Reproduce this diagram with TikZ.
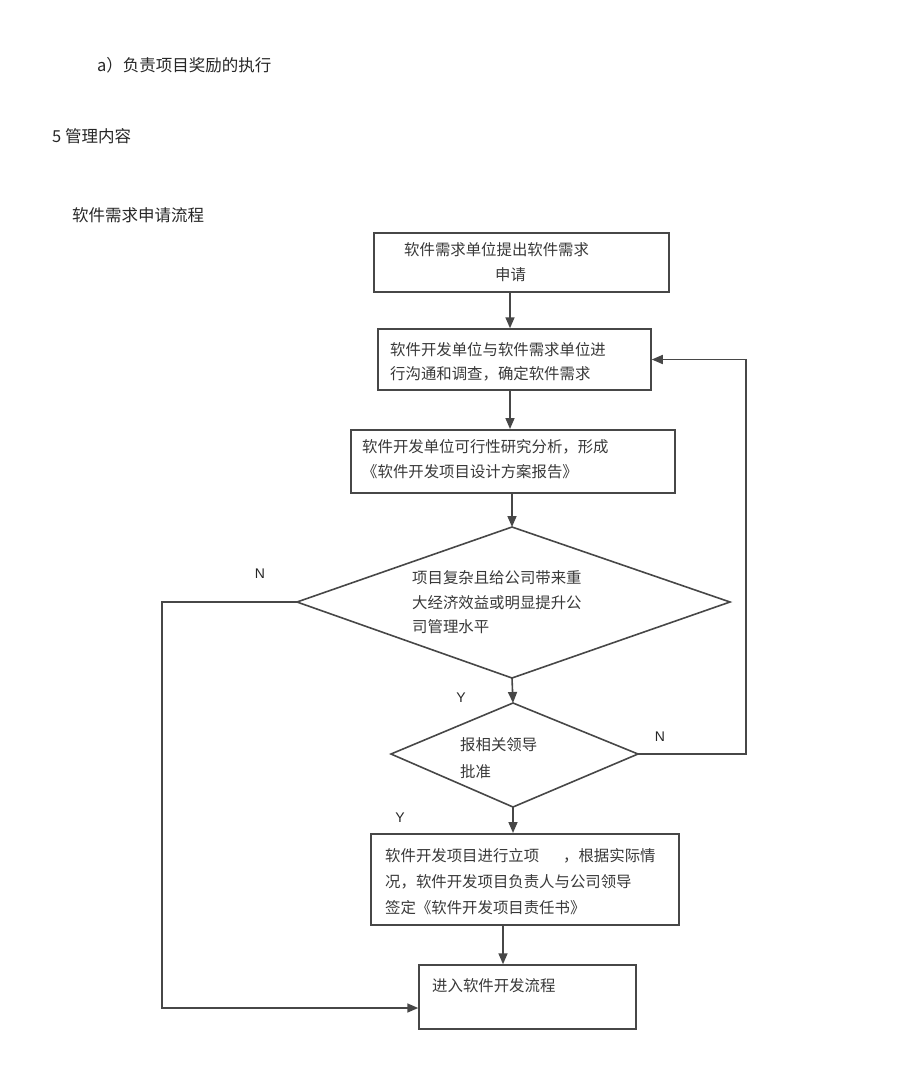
\documentclass[tikz,border=0pt]{standalone}
\usepackage{fontspec}
\newfontfamily\cjk{Noto Sans CJK SC}
\newfontfamily\lat{Liberation Sans}
\usetikzlibrary{arrows.meta,calc}
\begin{document}
\begin{tikzpicture}[x=1pt,y=-1pt,
  box/.style={draw=black!72,line width=1.5pt,inner sep=0pt},
  thickbox/.style={box,line width=2pt},
  txt/.style={anchor=west,inner sep=0pt,align=left,text=black!78,font=\cjk\fontsize{15.4}{25}\selectfont},
  head/.style={anchor=west,inner sep=0pt,text=black!85,font=\cjk\fontsize{16.5}{20}\selectfont},
  yn/.style={inner sep=0pt,text=black!85,font=\lat\fontsize{14}{16}\selectfont},
  ln/.style={draw=black!72,line width=1.6pt},
  arr/.style={ln,-{Triangle[length=11pt,width=9pt]}}]
\useasboundingbox (0,0) rectangle (920,1085);

% headers
\node[head] (h1) at (97,65) {a）负责项目奖励的执行};
\node[head] (h2) at (52,136) {5 管理内容};
\node[head] (h3) at (72,215) {软件需求申请流程};

% boxes
\node[box,minimum width=295pt,minimum height=59pt] (b1) at (521.5,262.5) {};
\node[box,minimum width=273pt,minimum height=61pt] (b2) at (514.5,359.5) {};
\node[thickbox,minimum width=324pt,minimum height=63pt] (b3) at (513,461.5) {};
\node[thickbox,minimum width=308pt,minimum height=91pt] (b4) at (525,879.5) {};
\node[box,minimum width=217pt,minimum height=64pt] (b5) at (527.5,997) {};

% box texts
\node[txt] (t1) at (404,262.5) {软件需求单位提出软件需求\\\hspace*{91pt}申请};
\node[txt,font=\cjk\fontsize{15.4}{24}\selectfont] (t2) at (390,362) {软件开发单位与软件需求单位进\\行沟通和调查，确定软件需求};
\node[txt] (t3) at (362,459.5) {软件开发单位可行性研究分析，形成\\《软件开发项目设计方案报告》};
\node[txt,font=\cjk\fontsize{15.4}{26}\selectfont] (t4) at (385,882) {软件开发项目进行立项\hspace*{24pt}，根据实际情\\况，软件开发项目负责人与公司领导\\签定《软件开发项目责任书》};
\node[txt] (t5) at (432,986) {进入软件开发流程};

% diamonds
\coordinate (d1t) at (512,527);
\coordinate (d1l) at (297,602);
\coordinate (d1r) at (730,602);
\coordinate (d1b) at (512,678);
\draw[ln,line join=miter] (d1t) -- (d1r) -- (d1b) -- (d1l) -- cycle;
\node[txt,font=\cjk\fontsize{15.4}{24.5}\selectfont] (t6) at (412,602.5) {项目复杂且给公司带来重\\大经济效益或明显提升公\\司管理水平};

\coordinate (d2t) at (513,703);
\coordinate (d2l) at (391,754);
\coordinate (d2r) at (638,754);
\coordinate (d2b) at (513,807);
\draw[ln,line join=miter] (d2t) -- (d2r) -- (d2b) -- (d2l) -- cycle;
\node[txt,font=\cjk\fontsize{15.4}{27}\selectfont] (t7) at (460,758.5) {报相关领导\\批准};

% column coordinates
\coordinate (c1) at (510,0);
\coordinate (c3) at (503,0);
\coordinate (fr) at (746,0);
\coordinate (fl) at (162,0);
\coordinate (e5) at ($(b5.west)+(0,11)$);

% connectors
\draw[arr] (b1.south -| c1) -- (b2.north -| c1);
\draw[arr] (b2.south -| c1) -- (b3.north -| c1);
\draw[arr] (b3.south -| d1t) -- (d1t);
\draw[arr] (d1b) -- (d2t);
\draw[arr] (d2b) -- (b4.north -| d2b);
\draw[arr] (b4.south -| c3) -- (b5.north -| c3);
\draw[arr] (d2r) -- (d2r -| fr) -- (b2.east -| fr) -- (b2.east);
\draw[arr] (d1l) -- (d1l -| fl) -- (e5 -| fl) -- (e5);

% labels
\node[yn] (n1) at (260,574) {N};
\node[yn] (y1) at (461,698) {Y};
\node[yn] (n2) at (660,737) {N};
\node[yn] (y2) at (400,818) {Y};
\end{tikzpicture}
\end{document}
